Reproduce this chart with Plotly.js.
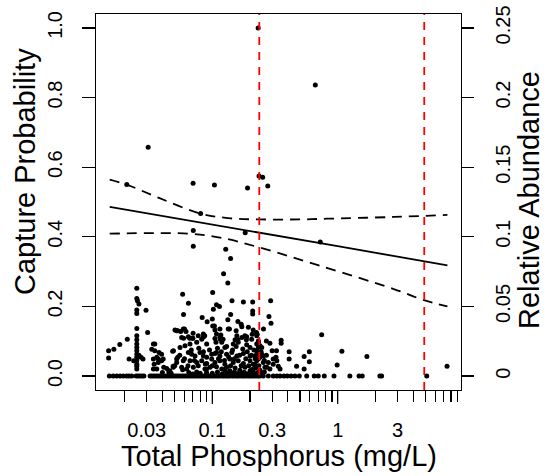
<!DOCTYPE html>
<html>
<head>
<meta charset="utf-8">
<script src="https://cdn.plot.ly/plotly-3.0.1.min.js"></script>
<style>html,body{margin:0;padding:0;background:#fff;}#chart{width:551px;height:476px;}</style>
</head>
<body>
<div id="chart"></div>
<script>
// ---- data ----
// observations with capture probability 0 (total phosphorus, mg/L)
const tpZero = [0.0151,0.0162,0.0173,0.0184,0.0195,0.0208,0.0217,0.0228,0.0247,0.0255,
0.0265,0.0275,0.0285,0.0319,0.0330,0.0343,0.0356,0.0369,0.0383,0.0397,
0.0412,0.0427,0.0443,0.0460,0.0477,0.0495,0.0514,0.0533,0.0553,0.0574,
0.0595,0.0617,0.0640,0.0664,0.0689,0.0715,0.0742,0.0769,0.0798,0.0828,
0.0859,0.0891,0.0925,0.0959,0.0995,0.103,0.107,0.111,0.115,0.120,
0.124,0.129,0.133,0.138,0.144,0.149,0.155,0.160,0.166,0.173,
0.179,0.186,0.193,0.200,0.207,0.215,0.223,0.232,0.240,0.255,
0.280,0.306,0.327,0.347,0.373,0.396,0.425,0.456,0.494,0.566,
0.650,0.700,0.782,0.934,1.25,1.48,1.57,2.17,2.24,5.13];
const probZero = [0,0,0,0,0,0,0,0,0,0, 0,0,0,0,0,0,0,0,0,0, 0,0,0,0,0,0,0,0,0,0,
0,0,0,0,0,0,0,0,0,0, 0,0,0,0,0,0,0,0,0,0, 0,0,0,0,0,0,0,0,0,0,
0,0,0,0,0,0,0,0,0,0, 0,0,0,0,0,0,0,0,0,0, 0,0,0,0,0,0,0,0,0,0];

const tpHigh = [0.232,0.663,0.0308,0.0208,0.0703,0.104,0.191,0.236,0.252,0.277,0.0807,0.0705,0.183,0.0705,0.128,0.140,0.726];
const probHigh = [1.0,0.836,0.657,0.550,0.554,0.549,0.540,0.575,0.571,0.546,0.467,0.418,0.412,0.373,0.364,0.338,0.385];

const tpMid = [0.123,0.133,0.025,0.1007,0.058,0.025,0.0253,0.026,0.0645,0.1436,
0.177,0.210,0.292,0.108,0.114,0.102,0.0296,0.025,0.025,0.059,
0.140,0.210,0.210,0.283,0.083,0.100,0.091,0.133,0.160,0.170,
0.294,0.104,0.105,0.134,0.155,0.053,0.056,0.060,0.0703,0.087,
0.182,0.208,0.228,0.117,0.116,0.059,0.066,0.070,0.152,0.160,
0.187,0.105,0.107,0.085,0.025,0.0305,0.052,0.256,0.225,0.270,
0.288,0.354,0.354,0.745,0.300,0.325,0.410,0.410,0.594,0.540,
0.594,0.470,0.540,1.08,0.99,1.71,7.45];
const probMid = [0.294,0.267,0.252,0.240,0.235,0.223,0.216,0.207,0.209,0.216,
0.213,0.213,0.216,0.205,0.200,0.192,0.189,0.190,0.180,0.177,
0.177,0.187,0.178,0.171,0.168,0.164,0.156,0.162,0.157,0.149,
0.152,0.144,0.132,0.135,0.130,0.130,0.128,0.135,0.123,0.116,
0.116,0.120,0.120,0.118,0.106,0.109,0.109,0.109,0.104,0.104,
0.104,0.108,0.097,0.112,0.137,0.125,0.130,0.135,0.125,0.101,
0.094,0.103,0.094,0.119,0.073,0.073,0.070,0.049,0.070,0.056,
0.041,0.028,0.020,0.071,0.032,0.056,0.028];

const tpRight = [0.306,0.322,0.327,0.306,0.336,0.347,0.280,0.263,0.288,0.248,0.240,0.226,0.219,0.226,0.212,0.233,0.240,0.233,0.226,0.219];
const probRight = [0.049,0.054,0.044,0.034,0.028,0.020,0.039,0.025,0.020,0.063,0.054,0.044,0.034,0.025,0.020,0.097,0.087,0.082,0.073,0.058];

const tpLeft = [0.0339,0.0348,0.0329,0.0348,0.0376,0.0394,0.0361,0.0339,0.0371,0.0394,
0.0344,0.0371,0.0406,0.0339,0.0361,0.0433,0.0458,0.0487,0.0502,0.049,
0.053,0.052,0.041,0.045,0.040,0.047,0.0149,0.0149,0.0164,0.0183,
0.021,0.0217,0.0236,0.026,0.027,0.028,
0.025,0.025,0.025,0.025,0.025,0.025,0.025,0.025,0.025,0.025,0.025];
const probLeft = [0.092,0.092,0.077,0.073,0.068,0.063,0.054,0.049,0.049,0.044,
0.034,0.039,0.049,0.020,0.020,0.022,0.015,0.028,0.030,0.073,
0.054,0.039,0.025,0.012,0.010,0.008,0.073,0.052,0.077,0.091,
0.106,0.049,0.044,0.060,0.054,0.049,
0.116,0.104,0.092,0.082,0.073,0.063,0.054,0.044,0.034,0.028,0.020];

const tpDense = [0.0504,0.0587,0.0617,0.1008,0.115,0.137,0.172,0.194,0.212,
0.057,0.0644,0.0698,0.0773,0.0823,0.0848,0.108,0.115,0.122,0.157,0.172,0.188,0.206,0.226,0.233,
0.0553,0.0606,0.0664,0.0751,0.0902,0.119,0.126,0.147,0.161,0.188,0.200,0.226,0.248,
0.0483,0.0644,0.0685,0.0728,0.0798,0.0848,0.0902,0.0989,0.108,0.115,0.130,0.143,0.157,0.177,0.200,0.226,0.255,
0.052,0.0587,0.0664,0.0751,0.0823,0.0902,0.0989,0.105,0.115,0.126,0.138,0.147,0.161,0.177,0.200,0.212,0.233,0.255,
0.0489,0.057,0.0625,0.0706,0.0773,0.0874,0.0959,0.108,0.119,0.130,0.138,0.152,0.166,0.182,0.200,0.219,0.240,0.272,
0.065,0.070,0.075,0.080,0.090,0.100,0.110,0.120,0.130,0.140,0.150,0.160,0.170,0.180,0.190,0.200,0.210,0.220,0.230,0.250];
const probDense = [0.132,0.135,0.128,0.144,0.135,0.135,0.142,0.140,0.132,
0.111,0.113,0.109,0.116,0.106,0.121,0.121,0.111,0.106,0.116,0.111,0.113,0.106,0.116,0.101,
0.082,0.087,0.092,0.097,0.092,0.097,0.082,0.092,0.097,0.090,0.082,0.092,0.082,
0.071,0.068,0.063,0.058,0.068,0.058,0.054,0.063,0.068,0.058,0.063,0.068,0.058,0.065,0.058,0.063,0.058,
0.049,0.044,0.044,0.039,0.044,0.036,0.049,0.039,0.044,0.034,0.049,0.039,0.044,0.036,0.044,0.034,0.049,0.039,
0.025,0.025,0.020,0.025,0.030,0.020,0.025,0.027,0.020,0.025,0.015,0.023,0.017,0.025,0.015,0.023,0.017,0.025,
0.010,0.006,0.012,0.008,0.010,0.008,0.012,0.006,0.010,0.007,0.012,0.005,0.009,0.011,0.006,0.009,0.012,0.007,0.010,0.008];

const tpCluster = [0.055,0.060,0.068,0.072,0.078,0.085,0.088,0.095,0.100,0.105,
0.110,0.112,0.118,0.125,0.130,0.135,0.140,0.145,0.150,0.155,
0.165,0.170,0.175,0.185,0.190,0.195,0.205,0.215,0.220,0.235,
0.245,0.260,0.270,0.064,0.058,0.090,0.125,0.165,0.205,0.260];
const probCluster = [0.060,0.050,0.075,0.045,0.080,0.070,0.035,0.075,0.030,0.065,
0.080,0.050,0.070,0.045,0.085,0.055,0.030,0.075,0.050,0.085,
0.060,0.030,0.078,0.050,0.070,0.030,0.060,0.075,0.050,0.030,
0.070,0.045,0.060,0.030,0.018,0.020,0.018,0.012,0.018,0.012];

// fitted curve and confidence band
const fitTP = [0.0152,0.03,0.1,0.3,1,3,7.5];
const fitProb = [0.486,0.468,0.435,0.405,0.373,0.343,0.318];
const upperTP = [0.0152,0.021,0.038,0.08,0.14,0.24,0.5,0.82,2.8,7.5];
const upperProb = [0.564,0.549,0.511,0.467,0.453,0.450,0.450,0.452,0.457,0.463];
const lowerTP = [0.0152,0.066,0.115,0.24,0.72,2.8,4.8,7.5];
const lowerProb = [0.409,0.409,0.398,0.369,0.317,0.250,0.219,0.200];

// thresholds (red dashed)
const thresholds = [0.237, 4.9];

// axis ticks
const xTickVals = [0.02,0.03,0.04,0.05,0.06,0.07,0.08,0.09,0.1,0.2,0.3,0.4,0.5,0.6,0.7,0.8,0.9,1,2,3,4,5,6,7,8,9];
const xTickText = ['','0.03','','','','','','','0.1','','0.3','','','','','','','1','','3','','','','','',''];
const xMajor = [0.1, 1];
const yTickVals = [0,0.2,0.4,0.6,0.8,1.0];
const yTickText = ['0.0','0.2','0.4','0.6','0.8','1.0'];
const y2TickVals = [0,0.05,0.1,0.15,0.2,0.25];
const y2TickText = ['0','0.05','0.1','0.15','0.2','0.25'];

const FONT = 'Liberation Sans, Arial, Helvetica, sans-serif';
const allTP = tpZero.concat(tpHigh, tpMid, tpRight, tpLeft, tpDense, tpCluster);
const allProb = probZero.concat(probHigh, probMid, probRight, probLeft, probDense, probCluster);

const traces = [
  {x: allTP, y: allProb, type: 'scatter', mode: 'markers',
   marker: {color: '#000', size: 5, line: {width: 0}}, hoverinfo: 'skip'},
  {x: fitTP, y: fitProb, type: 'scatter', mode: 'lines', line: {color: '#000', width: 1.8}},
  {x: upperTP, y: upperProb, type: 'scatter', mode: 'lines', line: {color: '#000', width: 1.8, dash: '10px,7px', shape: 'spline'}},
  {x: lowerTP, y: lowerProb, type: 'scatter', mode: 'lines', line: {color: '#000', width: 1.8, dash: '10px,7px', shape: 'spline'}},
  {x: [], y: [], yaxis: 'y2', type: 'scatter', mode: 'markers', showlegend: false}
];

const shapes = [];
thresholds.forEach(t => shapes.push({type: 'line', xref: 'x', yref: 'paper', x0: t, x1: t, y0: 0, y1: 1,
  line: {color: '#ff0000', width: 1.8, dash: '8px,7px'}}));
xMajor.forEach(t => shapes.push({type: 'line', xref: 'x', yref: 'paper', x0: t, x1: t, y0: 0, y1: -14/376,
  line: {color: '#000', width: 1.2}}));

const layout = {
  width: 551, height: 476,
  margin: {l: 96, r: 90, t: 14, b: 86, pad: 0},
  paper_bgcolor: '#fff', plot_bgcolor: '#fff',
  showlegend: false,
  font: {family: FONT, color: '#000'},
  xaxis: {type: 'log', range: [-1.9274, 0.9833], tickmode: 'array', tickvals: xTickVals, ticktext: xTickText,
    ticks: 'outside', ticklen: 11, tickwidth: 1.2, tickcolor: '#000',
    showline: true, linecolor: '#000', linewidth: 1.2, mirror: true,
    showgrid: false, zeroline: false, tickfont: {size: 20, family: FONT}, ticklabelstandoff: 11},
  yaxis: {range: [-0.04, 1.04], tickmode: 'array', tickvals: yTickVals, ticktext: yTickText, tickangle: -90,
    ticks: 'outside', ticklen: 13, tickwidth: 1.2, tickcolor: '#000',
    showline: true, linecolor: '#000', linewidth: 1.2, mirror: true,
    showgrid: false, zeroline: false, tickfont: {size: 20, family: FONT}, ticklabelstandoff: 12},
  yaxis2: {overlaying: 'y', side: 'right', range: [-0.01, 0.26], tickmode: 'array', tickvals: y2TickVals, ticktext: y2TickText,
    tickangle: -90, ticks: 'outside', ticklen: 12, tickwidth: 1.2, tickcolor: '#000',
    showline: false, showgrid: false, zeroline: false, tickfont: {size: 20, family: FONT}, ticklabelstandoff: 12},
  shapes: shapes,
  annotations: [
    {text: 'Total Phosphorus (mg/L)', xref: 'paper', yref: 'paper', x: 0.5, y: -66/376, xanchor: 'center', yanchor: 'middle',
     showarrow: false, font: {size: 29, family: FONT, color: '#000'}},
    {text: 'Capture Probability', xref: 'paper', yref: 'paper', x: -71/365, y: (390-172)/376, xanchor: 'center', yanchor: 'middle',
     textangle: -90, showarrow: false, font: {size: 29, family: FONT, color: '#000'}},
    {text: 'Relative Abundance', xref: 'paper', yref: 'paper', x: 1 + 68/365, y: (390-200)/376, xanchor: 'center', yanchor: 'middle',
     textangle: -90, showarrow: false, font: {size: 29, family: FONT, color: '#000'}}
  ]
};

Plotly.newPlot('chart', traces, layout, {staticPlot: true, displayModeBar: false});
</script>
</body>
</html>
